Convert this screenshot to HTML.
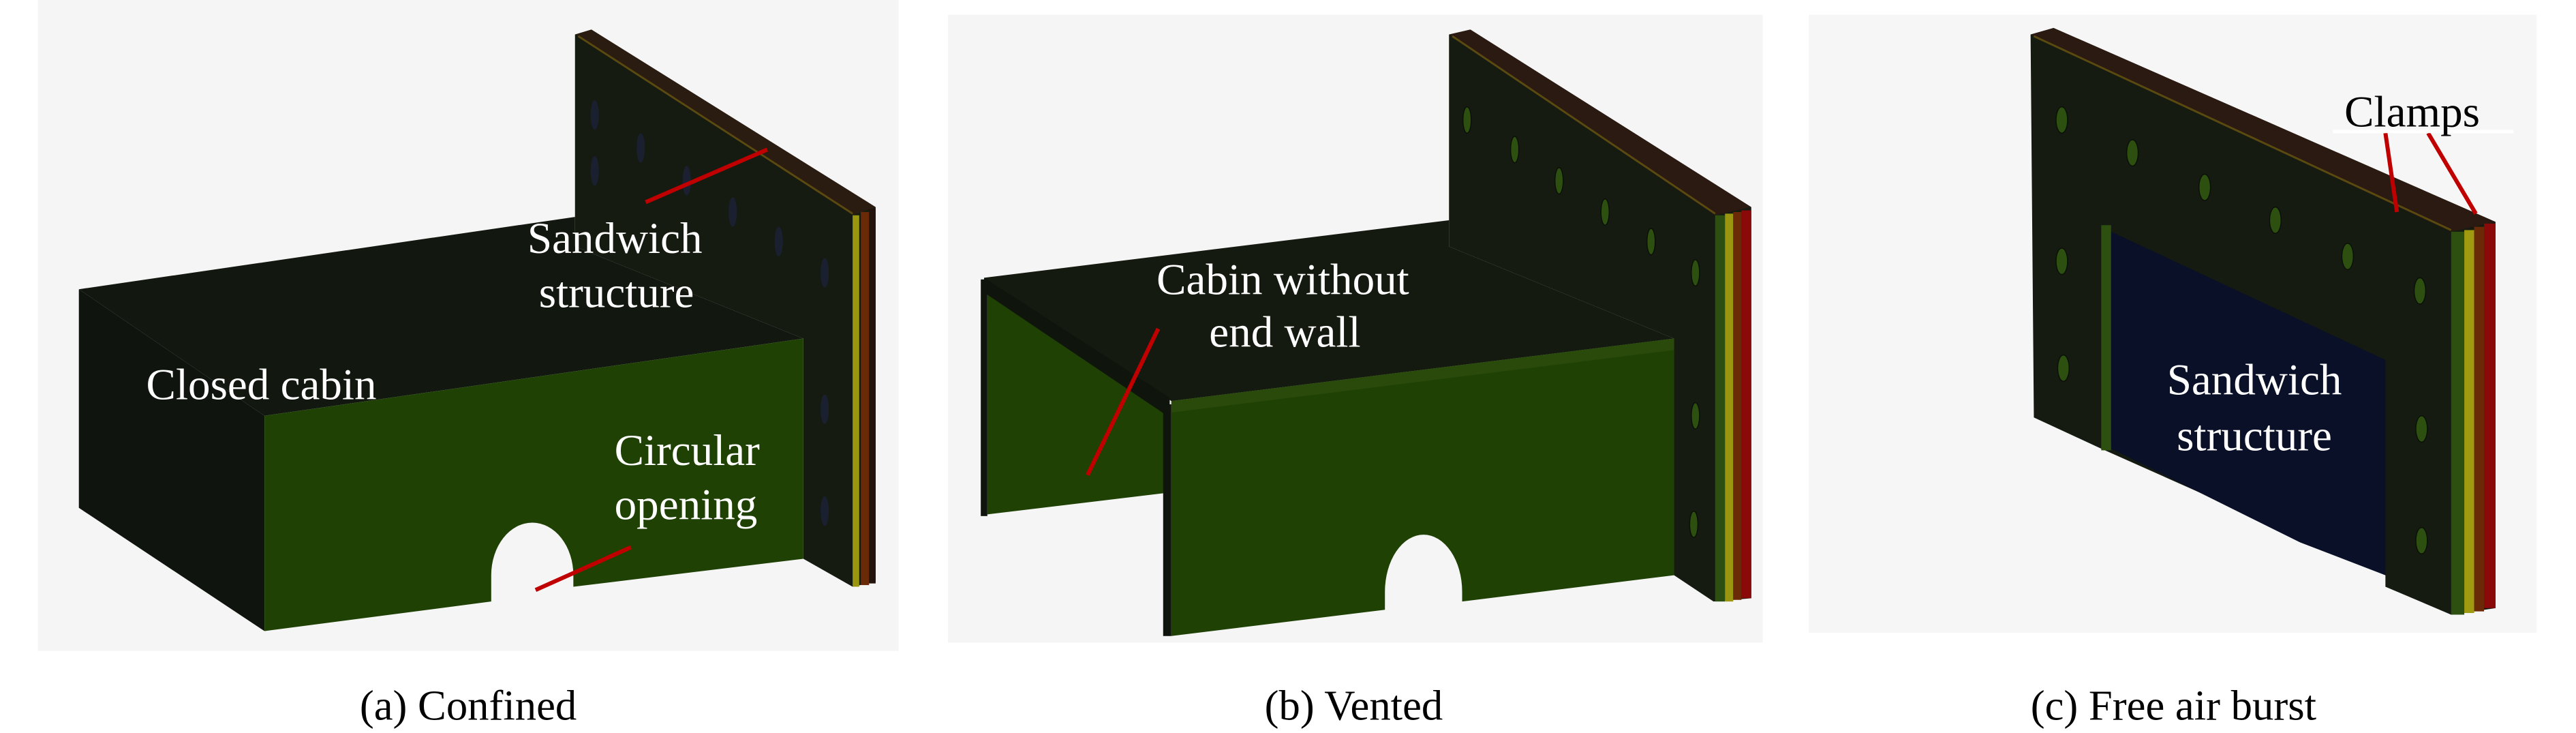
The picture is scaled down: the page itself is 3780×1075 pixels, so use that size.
<!DOCTYPE html>
<html><head><meta charset="utf-8"><style>
html,body{margin:0;padding:0;background:#fff;}
svg{display:block;}
text{font-family:"Liberation Serif",serif;}
</style></head><body>
<svg width="3780" height="1075" viewBox="0 0 1568 446" preserveAspectRatio="none" xmlns="http://www.w3.org/2000/svg">
<rect x="0" y="0" width="1568" height="446" fill="#ffffff"/>
<rect x="23" y="0" width="524" height="396" fill="#f6f5f5"/>
<rect x="577" y="9" width="496" height="382" fill="#f6f5f5"/>
<rect x="1101" y="9" width="443" height="376" fill="#f7f6f6"/>

<!-- ===== Panel A ===== -->
<polygon points="350,21 360,18 533,126 533,354 519,357 489,340 489,206 350,150" fill="#151b11"/>
<polygon points="350,21 360,18 533,126 519,131" fill="#2a1c10"/>
<line x1="352" y1="22" x2="519" y2="130" stroke="#5a4a10" stroke-width="1.2"/>
<rect x="519" y="131" width="4" height="226" fill="#9a9610"/>
<rect x="524" y="129" width="5" height="227" fill="#6a2a08"/>
<rect x="529" y="127" width="4" height="228" fill="#24140e"/>
<g fill="#1a2030">
<ellipse cx="362" cy="70" rx="2.5" ry="9"/><ellipse cx="390" cy="90" rx="2.5" ry="9"/>
<ellipse cx="362" cy="104" rx="2.5" ry="9"/><ellipse cx="418" cy="110" rx="2.5" ry="9"/>
<ellipse cx="446" cy="129" rx="2.5" ry="9"/><ellipse cx="474" cy="147" rx="2.5" ry="9"/>
<ellipse cx="502" cy="166" rx="2.5" ry="9"/><ellipse cx="502" cy="249" rx="2.5" ry="9"/>
<ellipse cx="502" cy="311" rx="2.5" ry="9"/>
</g>
<polygon points="48,176 350,132 350,150 489,206 161,253" fill="#121810"/>
<polygon points="48,176 161,253 161,384 48,309" fill="#0f150e"/>
<path d="M161,253 L489,206 L489,340 L349,357 L349,350 A25,32 0 0 0 299,350 L299,366 L161,384 Z" fill="#1f4204"/>
<line x1="326" y1="359" x2="384" y2="333" stroke="#c00000" stroke-width="2.5"/>
<line x1="393" y1="123" x2="467" y2="91" stroke="#c00000" stroke-width="2.5"/>
<g fill="#fff" font-size="27">
<text x="321" y="154">Sandwich</text>
<text x="328" y="187">structure</text>
<text x="89" y="243">Closed cabin</text>
<text x="374" y="283">Circular</text>
<text x="374" y="316">opening</text>
</g>
<text x="285" y="438" font-size="26" text-anchor="middle" fill="#000">(a) Confined</text>

<!-- ===== Panel B ===== -->
<polygon points="882,21 895,18 1066,126 1066,364 1043,366 1019,350 1019,206 882,150" fill="#151b11"/>
<polygon points="882,21 895,18 1066,126 1044,131" fill="#2a1a12"/>
<line x1="884" y1="22" x2="1044" y2="130" stroke="#5a4a10" stroke-width="1.2"/>
<rect x="1044" y="131" width="6" height="235" fill="#2d5010"/>
<rect x="1050" y="130" width="5" height="236" fill="#9a9610"/>
<rect x="1055" y="129" width="5" height="236" fill="#6a2a08"/>
<rect x="1060" y="128" width="6" height="236" fill="#8a0a0a"/>
<g fill="#2d5010" stroke="#0a0f08" stroke-width="0.6">
<ellipse cx="893" cy="73" rx="2.5" ry="8"/><ellipse cx="922" cy="91" rx="2.5" ry="8"/>
<ellipse cx="949" cy="110" rx="2.5" ry="8"/><ellipse cx="977" cy="129" rx="2.5" ry="8"/>
<ellipse cx="1005" cy="147" rx="2.5" ry="8"/><ellipse cx="1032" cy="166" rx="2.5" ry="8"/>
<ellipse cx="1032" cy="253" rx="2.5" ry="8"/><ellipse cx="1031" cy="319" rx="2.5" ry="8"/>
</g>
<polygon points="599,169 882,134 882,150 1019,206 713,244 603,176" fill="#141a10"/>
<polygon points="601,174 709,249 709,300 601,313" fill="#1f4204"/>
<polygon points="599,169 712,242 712,254 599,178" fill="#0f150d"/>
<rect x="597" y="170" width="4" height="144" fill="#0f150d"/>
<rect x="708" y="246" width="5" height="141" fill="#0f150d"/>
<path d="M713,244 L1019,206 L1019,350 L890,366 L890,360 A23,34 0 0 0 843,360 L843,371 L713,387 Z" fill="#1f4204"/>
<polygon points="713,244 1019,206 1019,213 713,251" fill="#2a4a0c"/>
<line x1="662" y1="289" x2="705" y2="200" stroke="#c00000" stroke-width="2.5"/>
<g fill="#fff" font-size="27">
<text x="704" y="179">Cabin without</text>
<text x="736" y="211">end wall</text>
</g>
<text x="824" y="438" font-size="26" text-anchor="middle" fill="#000">(b) Vented</text>

<!-- ===== Panel C ===== -->
<polygon points="1236,21 1250,17 1519,135 1519,370 1492,374 1452,357 1452,350 1279,273 1238,254" fill="#151b11"/>
<polygon points="1236,21 1250,17 1519,135 1492,141" fill="#2a1a12"/>
<line x1="1238" y1="22" x2="1492" y2="140" stroke="#5a4a10" stroke-width="1.2"/>
<polygon points="1283,140 1452,219 1452,350 1400,330 1285,273" fill="#0a1028"/>
<rect x="1279" y="137" width="6" height="137" fill="#2d5010"/>
<rect x="1492" y="141" width="8" height="233" fill="#2d5010"/>
<rect x="1500" y="140" width="6" height="233" fill="#a09a10"/>
<rect x="1506" y="138" width="6" height="234" fill="#6a2a08"/>
<rect x="1512" y="136" width="7" height="234" fill="#8a0a0a"/>
<g fill="#2d5010" stroke="#0a0f08" stroke-width="0.6">
<ellipse cx="1255" cy="73" rx="3.5" ry="8"/><ellipse cx="1298" cy="93" rx="3.5" ry="8"/>
<ellipse cx="1342" cy="114" rx="3.5" ry="8"/><ellipse cx="1385" cy="134" rx="3.5" ry="8"/>
<ellipse cx="1429" cy="156" rx="3.5" ry="8"/><ellipse cx="1473" cy="177" rx="3.5" ry="8"/>
<ellipse cx="1255" cy="159" rx="3.5" ry="8"/><ellipse cx="1256" cy="224" rx="3.5" ry="8"/>
<ellipse cx="1474" cy="261" rx="3.5" ry="8"/><ellipse cx="1474" cy="329" rx="3.5" ry="8"/>
</g>
<line x1="1452" y1="81" x2="1459" y2="129" stroke="#c00000" stroke-width="2.5"/>
<line x1="1478" y1="81" x2="1507" y2="130" stroke="#c00000" stroke-width="2.5"/>
<rect x="1420" y="79" width="110" height="2" fill="#ffffff"/>
<text x="1427" y="77" font-size="27" fill="#000">Clamps</text>
<g fill="#fff" font-size="27">
<text x="1319" y="240">Sandwich</text>
<text x="1325" y="274">structure</text>
</g>
<text x="1323" y="438" font-size="26" text-anchor="middle" fill="#000">(c) Free air burst</text>
</svg>
</body></html>
